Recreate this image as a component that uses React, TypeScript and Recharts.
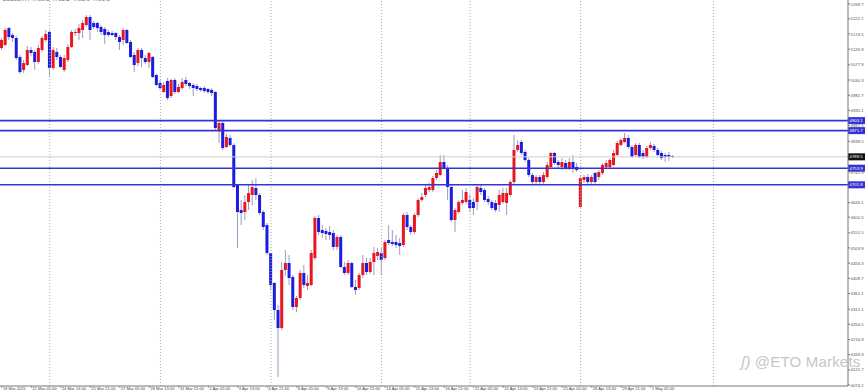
import React from 'react';
import { ComposedChart, Bar, XAxis, YAxis, ReferenceLine } from 'recharts';

// ---- data (H4 candles) ----
const open = [
  5130.7, 5140.1, 5193.4, 5171.5, 5162.1, 5102.5, 5061.8, 5077.4, 5124.5, 5118.2,
  5086.8, 5124.5, 5155.8, 5180.9, 5068.0, 5118.2, 5102.5, 5061.8, 5093.1, 5133.9,
  5177.7, 5177.7, 5187.2, 5202.8, 5227.9, 5209.1, 5209.1, 5196.6, 5190.3, 5180.9,
  5177.7, 5177.7, 5165.2, 5155.8, 5187.2, 5149.5, 5108.8, 5083.7, 5124.5, 5099.4,
  5086.8, 5102.5, 5046.1, 5021.0, 4992.8, 5027.3, 4980.2, 5030.4, 4992.8, 5005.3,
  5030.4, 5021.0, 5014.7, 5011.6, 5005.3, 5005.3, 5002.2, 4999.1, 4992.8, 4873.7,
  4895.6, 4820.4, 4848.6, 4826.6, 4701.2, 4622.9, 4616.6, 4647.9, 4669.9, 4691.8,
  4669.9, 4616.6, 4575.8, 4488.1, 4394.0, 4309.4, 4252.9, 4434.8, 4456.7, 4412.9,
  4318.8, 4347.0, 4425.4, 4384.6, 4387.8, 4472.4, 4597.8, 4560.2, 4557.0, 4553.9,
  4550.8, 4506.9, 4538.2, 4444.2, 4425.4, 4456.7, 4381.5, 4378.4, 4419.1, 4456.7,
  4428.5, 4459.8, 4478.7, 4488.1, 4472.4, 4528.8, 4522.5, 4522.5, 4519.4, 4513.1,
  4607.2, 4569.6, 4553.9, 4607.2, 4654.2, 4669.9, 4685.5, 4685.5, 4723.2, 4732.6,
  4773.3, 4754.5, 4694.9, 4591.5, 4616.6, 4644.8, 4647.9, 4654.2, 4647.9, 4647.9,
  4691.8, 4685.5, 4657.3, 4647.9, 4644.8, 4638.5, 4647.9, 4644.8, 4669.9, 4710.6,
  4811.0, 4836.1, 4804.7, 4779.6, 4732.6, 4710.6, 4726.3, 4710.6, 4726.3, 4757.7,
  4801.6, 4773.3, 4757.7, 4770.2, 4754.5, 4773.3, 4757.7, 4632.3, 4716.9, 4726.3,
  4710.6, 4738.9, 4726.3, 4738.9, 4757.7, 4757.7, 4763.9, 4795.3, 4826.6, 4836.1,
  4848.6, 4820.4, 4795.3, 4826.6, 4801.6, 4789.0, 4817.2, 4823.5, 4811.0, 4801.6,
  4795.3, 4795.3, 4789.0,
];
const high = [
  5162.1, 5193.4, 5196.6, 5177.7, 5168.3, 5108.8, 5093.1, 5137.0, 5133.9, 5124.5,
  5140.1, 5168.3, 5187.2, 5187.2, 5133.9, 5130.7, 5108.8, 5108.8, 5143.3, 5187.2,
  5190.3, 5206.0, 5218.5, 5234.2, 5234.2, 5215.4, 5212.2, 5202.8, 5196.6, 5187.2,
  5184.0, 5180.9, 5171.5, 5193.4, 5190.3, 5155.8, 5118.2, 5130.7, 5130.7, 5108.8,
  5118.2, 5105.6, 5049.2, 5030.4, 5024.1, 5036.7, 5033.5, 5036.7, 5017.9, 5036.7,
  5039.8, 5024.1, 5021.0, 5017.9, 5008.5, 5011.6, 5005.3, 5005.3, 4995.9, 4901.9,
  4901.9, 4861.1, 4858.0, 4832.9, 4704.4, 4654.2, 4669.9, 4701.2, 4716.9, 4723.2,
  4676.1, 4622.9, 4582.1, 4488.1, 4397.2, 4325.0, 4459.8, 4497.5, 4481.8, 4419.1,
  4353.2, 4434.8, 4450.5, 4419.1, 4497.5, 4604.1, 4607.2, 4575.8, 4566.4, 4572.7,
  4560.2, 4544.5, 4544.5, 4459.8, 4466.1, 4459.8, 4403.4, 4425.4, 4481.8, 4472.4,
  4472.4, 4506.9, 4503.7, 4503.7, 4528.8, 4575.8, 4560.2, 4544.5, 4535.1, 4613.5,
  4616.6, 4575.8, 4613.5, 4660.5, 4676.1, 4701.2, 4707.5, 4729.4, 4748.3, 4795.3,
  4795.3, 4763.9, 4701.2, 4629.1, 4654.2, 4685.5, 4691.8, 4669.9, 4660.5, 4701.2,
  4701.2, 4691.8, 4666.7, 4654.2, 4654.2, 4685.5, 4691.8, 4691.8, 4716.9, 4858.0,
  4842.3, 4842.3, 4811.0, 4785.9, 4738.9, 4732.6, 4732.6, 4742.0, 4773.3, 4804.7,
  4804.7, 4779.6, 4785.9, 4779.6, 4785.9, 4795.3, 4770.2, 4732.6, 4732.6, 4735.7,
  4732.6, 4742.0, 4748.3, 4770.2, 4779.6, 4785.9, 4811.0, 4839.2, 4848.6, 4864.3,
  4858.0, 4826.6, 4832.9, 4832.9, 4811.0, 4823.5, 4836.1, 4829.8, 4817.2, 4807.8,
  4801.6, 4804.7, 4795.3,
];
const low = [
  5124.5, 5137.0, 5155.8, 5149.5, 5093.1, 5049.2, 5052.4, 5074.3, 5105.6, 5061.8,
  5080.6, 5118.2, 5149.5, 5039.8, 5061.8, 5093.1, 5068.0, 5055.5, 5086.8, 5130.7,
  5168.3, 5155.8, 5162.1, 5196.6, 5155.8, 5190.3, 5180.9, 5171.5, 5143.3, 5165.2,
  5168.3, 5155.8, 5124.5, 5140.1, 5143.3, 5099.4, 5055.5, 5074.3, 5071.2, 5080.6,
  5068.0, 5036.7, 5011.6, 4999.1, 4989.6, 4967.7, 4974.0, 4986.5, 4989.6, 4999.1,
  5011.6, 5002.2, 4980.2, 4995.9, 4992.8, 4989.6, 4986.5, 4980.2, 4873.7, 4832.9,
  4811.0, 4817.2, 4820.4, 4691.8, 4503.7, 4575.8, 4591.5, 4622.9, 4638.5, 4654.2,
  4607.2, 4560.2, 4481.8, 4372.1, 4278.0, 4099.3, 4246.7, 4416.0, 4387.8, 4309.4,
  4303.1, 4340.7, 4378.4, 4372.1, 4384.6, 4466.1, 4544.5, 4535.1, 4528.8, 4528.8,
  4497.5, 4497.5, 4441.1, 4419.1, 4419.1, 4378.4, 4356.4, 4372.1, 4409.7, 4419.1,
  4422.2, 4419.1, 4466.1, 4419.1, 4466.1, 4513.1, 4510.0, 4503.7, 4481.8, 4506.9,
  4560.2, 4544.5, 4547.6, 4600.9, 4647.9, 4663.6, 4679.3, 4679.3, 4716.9, 4729.4,
  4748.3, 4654.2, 4585.2, 4553.9, 4610.3, 4638.5, 4641.7, 4616.6, 4607.2, 4622.9,
  4669.9, 4647.9, 4638.5, 4622.9, 4616.6, 4616.6, 4641.7, 4607.2, 4663.6, 4704.4,
  4804.7, 4795.3, 4773.3, 4726.3, 4701.2, 4701.2, 4701.2, 4704.4, 4720.0, 4754.5,
  4763.9, 4754.5, 4748.3, 4748.3, 4748.3, 4738.9, 4742.0, 4629.1, 4707.5, 4704.4,
  4701.2, 4701.2, 4716.9, 4732.6, 4751.4, 4754.5, 4760.8, 4792.2, 4823.5, 4832.9,
  4814.1, 4785.9, 4789.0, 4785.9, 4782.7, 4785.9, 4811.0, 4804.7, 4789.0, 4779.6,
  4773.3, 4776.5, 4785.9,
];
const close = [
  5155.8, 5187.2, 5165.2, 5162.1, 5099.4, 5055.5, 5083.7, 5124.5, 5115.1, 5086.8,
  5130.7, 5162.1, 5174.6, 5068.0, 5124.5, 5102.5, 5071.2, 5099.4, 5133.9, 5180.9,
  5180.9, 5193.4, 5209.1, 5227.9, 5187.2, 5196.6, 5193.4, 5180.9, 5171.5, 5171.5,
  5171.5, 5165.2, 5149.5, 5187.2, 5146.4, 5102.5, 5077.4, 5124.5, 5099.4, 5086.8,
  5115.1, 5039.8, 5014.7, 5005.3, 5014.7, 4974.0, 5030.4, 4992.8, 5008.5, 5024.1,
  5017.9, 5011.6, 5005.3, 5002.2, 4999.1, 4995.9, 4992.8, 4989.6, 4879.9, 4895.6,
  4817.2, 4851.7, 4826.6, 4694.9, 4616.6, 4613.5, 4647.9, 4676.1, 4694.9, 4669.9,
  4613.5, 4569.6, 4488.1, 4387.8, 4309.4, 4252.9, 4434.8, 4456.7, 4409.7, 4318.8,
  4347.0, 4425.4, 4387.8, 4394.0, 4488.1, 4597.8, 4553.9, 4550.8, 4547.6, 4544.5,
  4506.9, 4538.2, 4444.2, 4425.4, 4456.7, 4381.5, 4372.1, 4419.1, 4456.7, 4428.5,
  4459.8, 4488.1, 4491.2, 4466.1, 4522.5, 4519.4, 4516.3, 4513.1, 4510.0, 4607.2,
  4569.6, 4553.9, 4607.2, 4654.2, 4663.6, 4691.8, 4694.9, 4723.2, 4738.9, 4773.3,
  4754.5, 4694.9, 4591.5, 4622.9, 4647.9, 4654.2, 4679.3, 4629.1, 4629.1, 4694.9,
  4679.3, 4654.2, 4647.9, 4629.1, 4622.9, 4669.9, 4676.1, 4676.1, 4710.6, 4811.0,
  4826.6, 4801.6, 4779.6, 4732.6, 4710.6, 4726.3, 4710.6, 4732.6, 4763.9, 4801.6,
  4770.2, 4763.9, 4773.3, 4754.5, 4773.3, 4754.5, 4748.3, 4723.2, 4726.3, 4710.6,
  4726.3, 4710.6, 4742.0, 4763.9, 4770.2, 4779.6, 4801.6, 4832.9, 4842.3, 4848.6,
  4820.4, 4789.0, 4826.6, 4789.0, 4789.0, 4817.2, 4826.6, 4811.0, 4795.3, 4785.9,
  4789.0, 4789.0, 4792.2,
];

const totalSlots = 230; // bars + empty chart shift on the right
const priceTicks = [
  5268.7, 5222.1, 5174.5, 5126.9, 5077.9, 5030.3, 4982.7, 4935.1, 4887.5, 4838.5,
  4741.9, 4646.1, 4600.5, 4551.5, 4503.9, 4456.3, 4408.7, 4361.1, 4312.1, 4264.5,
  4216.9, 4169.3, 4121.7, 4074.1,
];
const blueLevels = [4903.1, 4871.7, 4753.9, 4701.8];
const lastPrice = 4789.5;
const separators = [13, 43, 73, 103, 127, 157, 193];
const timeTickIdx = [0, 8, 16, 24, 32, 40, 48, 56, 64, 72, 80, 88, 96, 104, 112, 120, 128, 136, 144, 152, 160, 168, 176];
const timeTickText = [
  '19 Mar 2025', '21 Mar 05:00', '24 Mar 13:00', '25 Mar 21:00', '27 Mar 05:00', '28 Mar 13:00',
  '31 Mar 21:00', '2 Apr 05:00', '3 Apr 13:00', '4 Apr 21:00', '8 Apr 05:00', '9 Apr 13:00',
  '10 Apr 21:00', '14 Apr 05:00', '15 Apr 13:00', '16 Apr 21:00', '21 Apr 05:00', '22 Apr 13:00',
  '23 Apr 21:00', '25 Apr 05:00', '28 Apr 13:00', '29 Apr 21:00', '1 May 05:00',
];

const Y_MIN = 4071.1;
const Y_MAX = 5281.2;

const UP = '#e8171f';
const DOWN = '#1c1cde';
const WICK = '#9c9cc4';
const LEVEL = '#3434d4';
const FONT = 'Liberation Sans, Arial, sans-serif';

const data = Array.from({ length: totalSlots }, (_, i) =>
  i < open.length
    ? { i, range: [low[i], high[i]], o: open[i], h: high[i], l: low[i], c: close[i] }
    : { i, range: null, o: null, h: null, l: null, c: null }
);

const Candle = (props: any) => {
  const { x, y, width, height, payload } = props;
  if (!payload || payload.o == null) return null;
  const { o, h, l, c } = payload;
  const span = h - l;
  const ppu = span > 0 ? height / span : 0;
  const cx = x + width / 2;
  const top = y + (h - Math.max(o, c)) * ppu;
  const bh = Math.max(1, Math.abs(o - c) * ppu);
  const col = c >= o ? UP : DOWN;
  return (
    <g>
      <line x1={cx} x2={cx} y1={y} y2={y + Math.max(height, 1)} stroke={WICK} strokeWidth={1} />
      <rect x={cx - 1.5} y={top} width={3} height={bh} fill={col} />
    </g>
  );
};

const PriceTick = (props: any) => {
  const { y, payload } = props;
  return (
    <text x={850.5} y={y + 1.6} fontSize={4.3} fill="#555" fontFamily={FONT}>
      {payload.value.toFixed(1)}
    </text>
  );
};

const TimeTick = (props: any) => {
  const { x, payload } = props;
  const k = timeTickIdx.indexOf(payload.value);
  return (
    <g>
      <line x1={x} x2={x} y1={386} y2={388} stroke="#666" strokeWidth={0.6} />
      <text x={x + 1} y={390.3} fontSize={4.1} fill="#444" fontFamily={FONT}>
        {k >= 0 ? timeTickText[k] : ''}
      </text>
    </g>
  );
};

const boxLabel = (value: number, fill: string) => (props: any) => {
  const vb = props.viewBox || {};
  const x = (vb.x || 0) + (vb.width || 0);
  const y = vb.y || 0;
  return (
    <g>
      <rect x={x} y={y - 3.5} width={17} height={7} fill={fill} />
      <text x={x + 1.5} y={y + 1.6} fontSize={4.3} fill="#fff" fontFamily={FONT}>
        {value.toFixed(1)}
      </text>
    </g>
  );
};

export default function App() {
  return (
    <div style={{ position: 'absolute', left: 0, top: 0, width: 865, height: 391, background: '#fff', overflow: 'hidden' }}>
      <ComposedChart
        width={865}
        height={391}
        data={data}
        margin={{ top: 0, right: 0, bottom: 0, left: 0 }}
        barCategoryGap={0}
      >
        <XAxis
          dataKey="i"
          type="category"
          ticks={timeTickIdx}
          interval={0}
          height={5}
          tickLine={false}
          axisLine={{ stroke: '#777', strokeWidth: 1 }}
          tick={<TimeTick />}
        />
        <YAxis
          orientation="right"
          type="number"
          domain={[Y_MIN, Y_MAX]}
          ticks={priceTicks}
          interval={0}
          width={17}
          tickSize={2}
          tickLine={{ stroke: '#777' }}
          axisLine={{ stroke: '#777', strokeWidth: 1 }}
          tick={<PriceTick />}
          allowDataOverflow
        />
        {separators.map((s) => (
          <ReferenceLine key={'s' + s} x={s} stroke="#a8a8a8" strokeDasharray="1 2" strokeWidth={1} />
        ))}
        <ReferenceLine y={lastPrice} stroke="#cfcfcf" strokeWidth={1} label={boxLabel(lastPrice, '#111')} />
        {blueLevels.map((v) => (
          <ReferenceLine key={'b' + v} y={v} stroke={LEVEL} strokeWidth={1.6} label={boxLabel(v, LEVEL)} />
        ))}
        <Bar dataKey="range" shape={<Candle />} isAnimationActive={false} barSize={3} />
      </ComposedChart>
      <div
        style={{
          position: 'absolute', left: 2, top: -4, fontSize: 6, color: '#666',
          fontFamily: FONT, whiteSpace: 'nowrap',
        }}
      >
        US500,H4 4789.5 4792.2 4785.9 4789.0
      </div>
      <div
        style={{
          position: 'absolute', left: 741, top: 353, fontSize: 15, color: '#c6c6c6',
          fontFamily: FONT, whiteSpace: 'nowrap', letterSpacing: 0.2,
        }}
      >
        <span style={{ fontStyle: 'italic', marginRight: 4 }}>ʃ)</span>@ETO Markets
      </div>
    </div>
  );
}
